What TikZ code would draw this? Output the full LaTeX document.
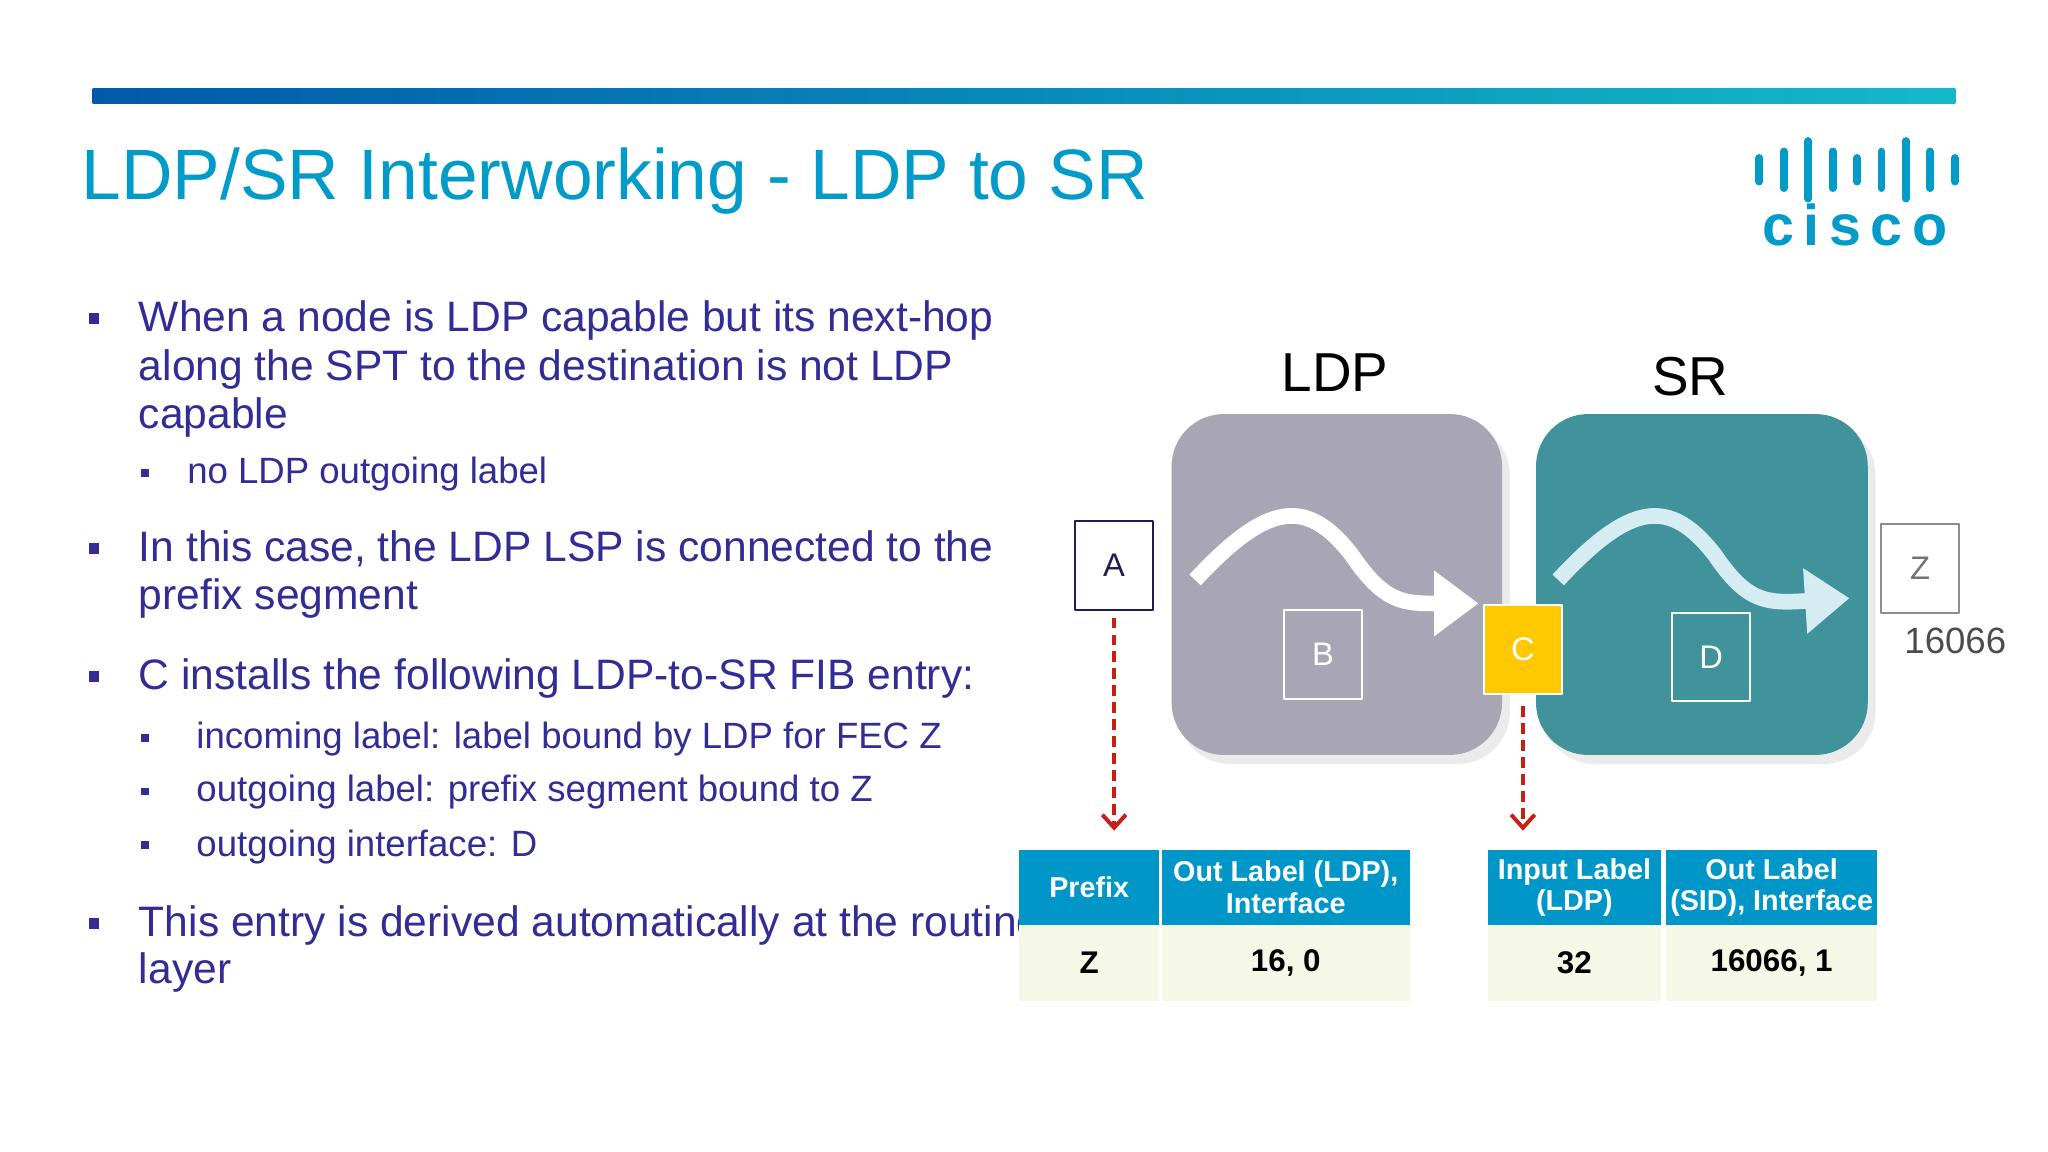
\documentclass[tikz,border=0pt]{standalone}
\usepackage{fontspec}
\setmainfont{Liberation Sans}
\usetikzlibrary{arrows.meta}
\definecolor{ttl}{RGB}{0,155,200}
\definecolor{ink}{RGB}{50,45,150}
\definecolor{ldpgray}{RGB}{168,166,180}
\definecolor{srteal}{RGB}{64,146,155}
\definecolor{tblue}{RGB}{0,150,200}
\definecolor{tcream}{RGB}{245,248,230}
\definecolor{cyel}{RGB}{255,200,0}
\definecolor{dred}{RGB}{200,30,20}
\definecolor{navy}{RGB}{30,30,80}
\begin{document}
\begin{tikzpicture}[x=0.5pt,y=-0.5pt,join=round,
  bul/.style={ink,anchor=base west,inner sep=0pt,font=\fontsize{16.3}{20}\selectfont},
  sub/.style={ink,anchor=base west,inner sep=0pt,font=\fontsize{14}{17}\selectfont},
  dot/.style={fill=ink,minimum size=4pt,inner sep=0pt},
  sdot/.style={fill=ink,minimum size=3pt,inner sep=0pt},
  dom/.style={rounded corners=20pt},
  rtr/.style={draw,line width=0.8pt,inner sep=0pt,minimum width=30pt,minimum height=34pt,font=\fontsize{12.5}{14}\selectfont},
  flow/.style={line width=6pt,-{Triangle[length=17pt,width=24pt]}},
  fib/.style={dred,dash pattern=on 4pt off 2.5pt,line width=1.5pt,-{Straight Barb[length=5pt,width=9pt]}},
  hd/.style={fill=tblue,text=white,font=\bfseries\fontsize{11}{12}\selectfont,align=center,inner sep=0pt,anchor=north west},
  cell/.style={fill=tcream,font=\bfseries\fontsize{12}{14}\selectfont,inner sep=0pt,anchor=north west}]
\useasboundingbox (0,0) rectangle (1568,882);
\fill[white] (0,0) rectangle (1568,882);
\shade[left color={rgb,255:red,0;green,90;blue,170},right color={rgb,255:red,20;green,185;blue,200}] (71,68) rectangle (1497,79);
\node[ttl,anchor=base west,inner sep=0pt,font=\fontsize{27.3}{32}\selectfont] (title) at (62,153) {LDP/SR Interworking - LDP to SR};
% cisco logo
\foreach \i/\h in {0/9,1/14,2/22,3/14,4/9,5/14,6/22,7/14,8/9}
  \draw[ttl,line width=3pt,line cap=round] (1347+\i*18.7,130-\h) -- (1347+\i*18.7,130+\h);
\node[ttl,font=\bfseries\fontsize{22}{24}\selectfont,inner sep=0pt] (logo) at (1420,172) {c\,i\,s\,c\,o};
% bullets
\node[dot] at (72,244) {};
\node[bul] (t1) at (106,254) {When a node is LDP capable but its next-hop};
\node[bul] at (106,291) {along the SPT to the destination is not LDP};
\node[bul] at (106,328) {capable};
\node[sdot] at (111,362) {};
\node[sub] at (143,370) {no LDP outgoing label};
\node[dot] at (72,420) {};
\node[bul] at (106,430) {In this case, the LDP LSP is connected to the};
\node[bul] at (106,467) {prefix segment};
\node[dot] at (72,518) {};
\node[bul] at (106,528) {C installs the following LDP-to-SR FIB entry:};
\node[sdot] at (111,565) {};
\node[sub] at (150,573) {incoming label: label bound by LDP for FEC Z};
\node[sdot] at (111,606) {};
\node[sub] at (150,614) {outgoing label: prefix segment bound to Z};
\node[sdot] at (111,647) {};
\node[sub] at (150,656) {outgoing interface: D};
\node[dot] at (72,707) {};
\node[bul] at (106,717) {This entry is derived automatically at the routing};
\node[bul] at (106,753) {layer};
% domains
\fill[black!8,dom] (902,324) rectangle (1156,585);
\fill[black!8,dom] (1181,324) rectangle (1436,585);
\fill[ldpgray,dom] (897,317) rectangle (1150,578);
\fill[srteal,dom] (1176,317) rectangle (1430,578);
\node[font=\fontsize{21}{24}\selectfont] (ldp) at (1022,285) {LDP};
\node[font=\fontsize{21}{24}\selectfont] (sr) at (1294,288) {SR};
\draw[flow,white] (915,444) .. controls (970,385) and (1000,380) .. (1035,425) .. controls (1060,462) and (1075,462) .. (1132,462);
\draw[flow,color={rgb,255:red,212;green,236;blue,242}] (1193,444) .. controls (1248,385) and (1278,380) .. (1313,425) .. controls (1338,462) and (1353,462) .. (1416,458);
% routers
\node[rtr,draw=navy,fill=white,text=navy] (A) at (853,433) {A};
\node[rtr,draw=white,text=white] (B) at (1013,501) {B};
\node[rtr,draw=white,fill=cyel,text=white] (C) at (1166,497) {C};
\node[rtr,draw=white,text=white] (D) at (1310,503) {D};
\node[rtr,draw=black!45,fill=white,text=black!55] (Z) at (1470,435) {Z};
\node[black!70,font=\fontsize{14}{16}\selectfont,anchor=base] (sid) at (1497,500) {16066};
\coordinate (ta) at (853,636);
\coordinate (tc) at (1166,636);
\draw[fib] (A.south) ++(0,5) -- (ta);
\draw[fib] (C.south) ++(0,9) -- (tc);
% tables
\node[hd,minimum width=53.5pt,minimum height=29pt] (h1) at (780,650) {Prefix};
\node[hd,minimum width=95pt,minimum height=29pt] (h2) at (889,650) {Out Label (LDP),\\Interface};
\node[cell,minimum width=53.5pt,minimum height=29pt] (c1) at (780,708) {Z};
\node[cell,minimum width=95pt,minimum height=29pt] (c2) at (889,708) {16, 0};
\node[hd,minimum width=66pt,minimum height=29pt] (h3) at (1139,650) {Input Label\\(LDP)};
\node[hd,minimum width=81pt,minimum height=29pt] (h4) at (1275,650) {Out Label\\(SID), Interface};
\node[cell,minimum width=66pt,minimum height=29pt] (c3) at (1139,708) {32};
\node[cell,minimum width=81pt,minimum height=29pt] (c4) at (1275,708) {16066, 1};
\end{tikzpicture}
\end{document}
